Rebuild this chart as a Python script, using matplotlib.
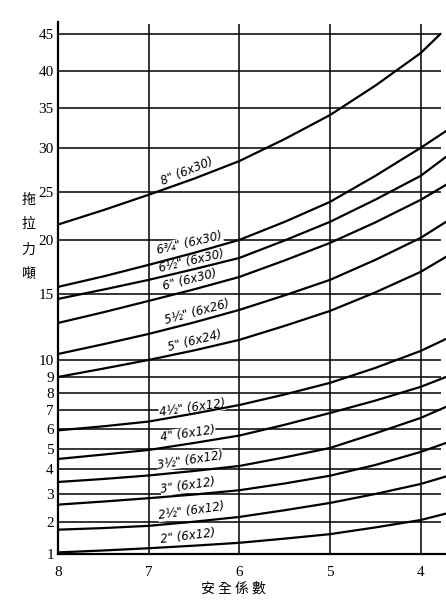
import numpy as np
import matplotlib.pyplot as plt

# hand-ruled y axis: tick values and where they sit (pixels from top of the sheet)
tick_vals = [1, 2, 3, 4, 5, 6, 7, 8, 9, 10, 15, 20, 25, 30, 35, 40, 45]
tick_px = [554, 522, 494, 469, 449, 429, 410, 393, 377, 360, 294, 240, 192, 148, 108, 71, 34]
x_ticks = [8, 7, 6, 5, 4]

# safety factor (x) and pull in tons for each rope
sf = [8, 7.5, 7, 6.5, 6, 5.5, 5, 4.5, 4, 3.72]
sf_8in = [8, 7.5, 7, 6.5, 6, 5.5, 5, 4.5, 4, 3.78]

rope_8 = [21.6, 23.1, 24.7, 26.5, 28.5, 31.1, 34.1, 38.0, 42.4, 45.0]
rope_6_75 = [15.65, 16.62, 17.69, 18.8, 20.0, 21.88, 23.96, 26.82, 30.0, 32.1]
rope_6_5 = [14.62, 15.4, 16.3, 17.29, 18.33, 19.95, 21.88, 24.19, 26.82, 28.98]
rope_6 = [12.8, 13.61, 14.47, 15.42, 16.57, 18.1, 19.72, 21.82, 24.17, 25.8]
rope_5_5 = [10.45, 11.19, 11.97, 12.84, 13.79, 14.89, 16.3, 18.15, 20.21, 21.88]
rope_5 = [9.0, 9.49, 10.0, 10.72, 11.52, 12.58, 13.71, 15.14, 17.04, 18.43]
rope_4_5 = [5.93, 6.14, 6.39, 6.81, 7.29, 7.91, 8.63, 9.53, 10.68, 11.59]
rope_4 = [4.5, 4.72, 4.95, 5.3, 5.67, 6.22, 6.84, 7.55, 8.38, 9.0]
rope_3_5 = [3.48, 3.6, 3.74, 3.92, 4.15, 4.58, 5.05, 5.78, 6.58, 7.18]
rope_3 = [2.62, 2.73, 2.85, 2.98, 3.15, 3.42, 3.73, 4.2, 4.85, 5.3]
rope_2_5 = [1.76, 1.81, 1.88, 2.01, 2.18, 2.42, 2.68, 3.0, 3.4, 3.7]
rope_2 = [1.05, 1.11, 1.18, 1.26, 1.35, 1.48, 1.62, 1.83, 2.07, 2.3]

rope_labels = ['8" (6x30)', '6¾" (6x30)', '6½" (6x30)', '6" (6x30)', '5½" (6x26)',
               '5" (6x24)', '4½" (6x12)', '4" (6x12)', '3½" (6x12)', '3" (6x12)',
               '2½" (6x12)', '2" (6x12)']

# label placement (pixel centre, rotation)
label_spots = [(187, 171, 22), (190, 243, 13), (192, 261, 13), (190, 280, 14),
               (197, 312, 15), (195, 341, 14), (192, 408, 8), (188, 434, 8),
               (190, 460, 9), (188, 486, 8), (191, 511, 8), (188, 536, 7)]

W, H = 446, 600

v_ext = [0] + tick_vals + [50]
p_ext = -np.array([586] + tick_px + [-3], dtype=float)


def fwd(v):
    return np.interp(v, v_ext, p_ext)


def inv(p):
    return np.interp(p, p_ext, v_ext)


fig = plt.figure(figsize=(W / 100, H / 100), dpi=100)
ax = fig.add_axes([58 / W, 1 - 554 / H, (W - 58) / W, (554 - 22) / H])
ax.set_yscale('function', functions=(fwd, inv))
ax.set_xlim(8, 3.72)
ax.set_ylim(1, 46.6)

ax.hlines(tick_vals, 8, 3.78, color='black', lw=1.1, zorder=1)
ax.vlines(x_ticks[1:], 1, 46.3, color='black', lw=1.1, zorder=1)

curves = [rope_8, rope_6_75, rope_6_5, rope_6, rope_5_5, rope_5,
          rope_4_5, rope_4, rope_3_5, rope_3, rope_2_5, rope_2]
for i, c in enumerate(curves):
    xs = sf_8in if i == 0 else sf
    ax.plot(xs, c, color='black', lw=1.6, solid_capstyle='round',
            solid_joinstyle='round', zorder=3)

# labels sit between the ruled grid (hidden behind them) and the curves
for txt, (px, py, rot) in zip(rope_labels, label_spots):
    ax.text(px / W, 1 - py / H, txt, transform=fig.transFigure,
            ha='center', va='center', rotation=rot, rotation_mode='anchor',
            fontsize=8.5, fontstyle='italic', family='DejaVu Sans', zorder=2,
            clip_on=False,
            bbox=dict(facecolor='white', edgecolor='none', pad=0.1))

ax.set_yticks(tick_vals)
ax.set_yticklabels([str(v) for v in tick_vals], family='Liberation Serif', fontsize=11)
ax.set_xticks(x_ticks)
ax.set_xticklabels([str(v) for v in x_ticks], family='Liberation Serif', fontsize=11)
ax.tick_params(length=0)
ax.tick_params(axis='y', pad=3)
ax.tick_params(axis='x', pad=9)
ax.minorticks_off()

for s in ['top', 'right']:
    ax.spines[s].set_visible(False)
ax.spines['left'].set_linewidth(1.6)
ax.spines['bottom'].set_linewidth(1.6)

fig.text(233 / W, 1 - 589 / H, '安 全 係 數', ha='center', va='center',
         fontsize=10, family=['Noto Sans CJK TC', 'DejaVu Sans'])
for ch, py in zip('拖拉力噸', [200, 224, 250, 274]):
    fig.text(28 / W, 1 - py / H, ch, ha='center', va='center',
             fontsize=10, family=['Noto Sans CJK TC', 'DejaVu Sans'])

fig.savefig('out.png', dpi=100, facecolor='white')
